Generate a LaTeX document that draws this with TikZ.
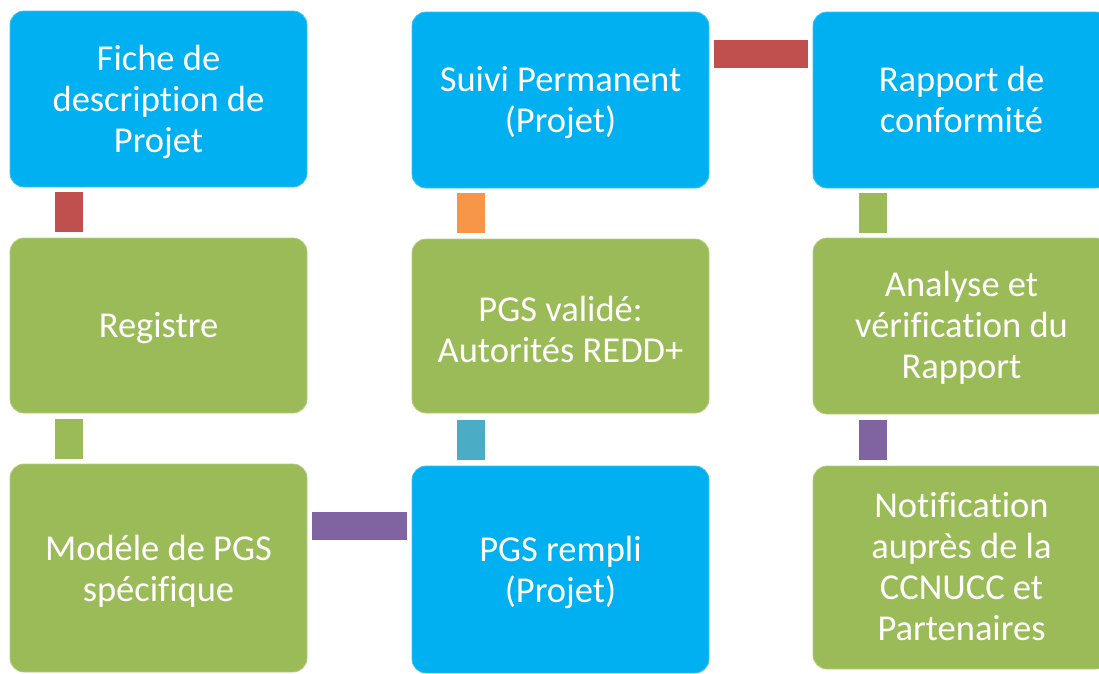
\documentclass[tikz,border=0pt]{standalone}
\usepackage{fontspec}
\setmainfont[Ligatures={NoCommon}]{Carlito}
\usetikzlibrary{calc}
\definecolor{cblue}{HTML}{00B0F0}
\definecolor{cgreen}{HTML}{9BBB59}
\definecolor{cred}{HTML}{C0504D}
\definecolor{corange}{HTML}{F79646}
\definecolor{cteal}{HTML}{4BACC6}
\definecolor{cpurple}{HTML}{8064A2}
\begin{document}
\begin{tikzpicture}[x=1pt,y=-1pt,
  box/.style={anchor=north west, rounded corners=14pt, inner sep=0pt, outer sep=0pt,
    minimum width=297pt},
  bluebox/.style={box, fill=cblue, draw=cblue!75!white, line width=0.8pt},
  greenbox/.style={box, fill=cgreen, draw=cgreen!75!white, line width=0.8pt},
  boxtext/.style={align=center, text=white, inner sep=0pt,
    font=\fontsize{36.5}{41}\selectfont},
  link/.style={line width=28pt, line cap=butt}]
\useasboundingbox (0,0) rectangle (1099,673);
% column 1
\node[bluebox, minimum height=176pt] (a1) at (10,11) {};
\node[greenbox, minimum height=175pt] (a2) at (10,238) {};
\node[greenbox, minimum height=208pt] (a3) at (10,464) {};
% column 2
\node[bluebox, minimum height=176pt] (b1) at (412,12) {};
\node[greenbox, minimum height=174pt] (b2) at (412,239) {};
\node[bluebox, minimum height=207pt] (b3) at (412,466) {};
% column 3
\node[bluebox, minimum height=176pt] (c1) at (813,12) {};
\node[greenbox, minimum height=176pt] (c2) at (813,238) {};
\node[greenbox, minimum height=203pt] (c3) at (813,466) {};
% texts
\node[boxtext] (a1t) at ($(a1.center)+(0,3)$) {Fiche de\\description de\\Projet};
\node[boxtext] (a2t) at ($(a2.center)+(0,3)$) {Registre};
\node[boxtext] (a3t) at ($(a3.center)+(0,3)$) {Modéle de PGS\\spécifique};
\node[boxtext] (b1t) at ($(b1.center)+(0,3)$) {Suivi Permanent\\(Projet)};
\node[boxtext] (b2t) at ($(b2.center)+(0,3)$) {PGS validé:\\Autorités REDD+};
\node[boxtext] (b3t) at ($(b3.center)+(0,3)$) {PGS rempli\\(Projet)};
\node[boxtext] (c1t) at ($(c1.center)+(0,-1)$) {Rapport de\\conformité};
\node[boxtext] (c2t) at ($(c2.center)+(0,2)$) {Analyse et\\vérification du\\Rapport};
\node[boxtext] (c3t) at ($(c3.center)+(0,-1)$) {Notification\\auprès de la\\CCNUCC et\\Partenaires};
% connectors
\draw[link, cred]    ($(a1.south west)+(59,5)$) -- ($(a2.north west)+(59,-6)$);
\draw[link, cgreen]  ($(a2.south west)+(59,6)$) -- ($(a3.north west)+(59,-5)$);
\draw[link, cpurple] ($(a3.north east)+(5,61.5)$) -- ($(b3.north west)+(-5,59.5)$);
\draw[link, cteal]   ($(b3.north west)+(59,-6)$) -- ($(b2.south west)+(59,7)$);
\draw[link, corange] ($(b2.north west)+(59,-6)$) -- ($(b1.south west)+(59,5)$);
\draw[link, cred]    ($(b1.north east)+(5,42)$) -- ($(c1.north west)+(-5,42)$);
\draw[link, cgreen]  ($(c1.south west)+(60,5)$) -- ($(c2.north west)+(60,-5)$);
\draw[link, cpurple] ($(c2.south west)+(60,6)$) -- ($(c3.north west)+(60,-6)$);
\end{tikzpicture}
\end{document}
